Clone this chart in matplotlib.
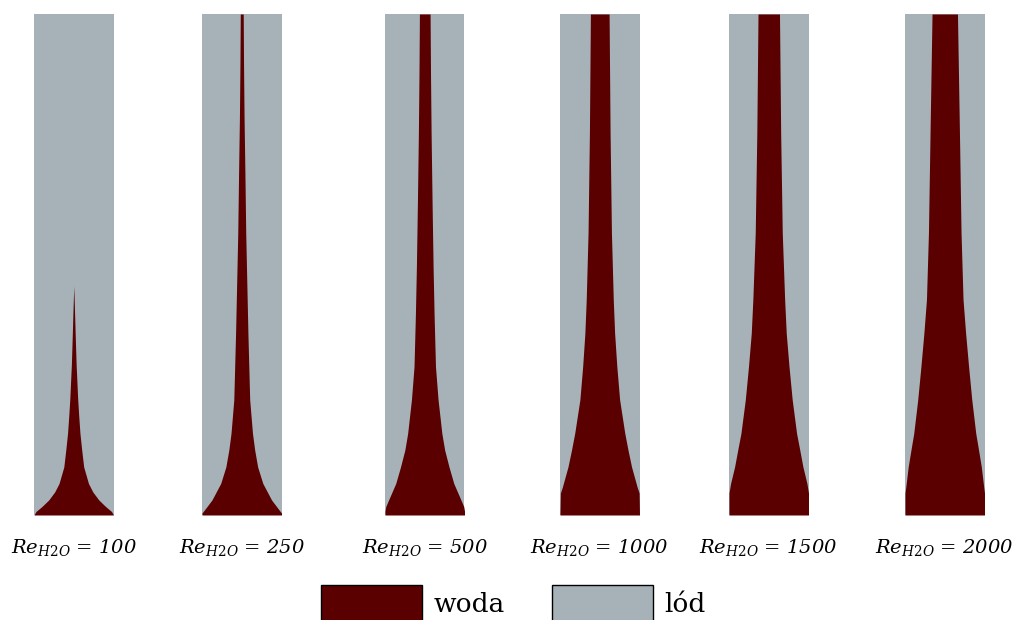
import numpy as np
import matplotlib
matplotlib.use("Agg")
import matplotlib.pyplot as plt
from matplotlib.patches import Patch

plt.rcParams.update({
    "font.family": "DejaVu Serif",
    "mathtext.fontset": "dejavuserif",
})

WATER = "#5a0000"
ICE = "#a7b2b8"

# Reynolds number of each run
re_values = [100, 250, 500, 1000, 1500, 2000]

# channel profile: height fraction (bottom -> top) and channel width as a
# fraction of the domain width at that height
h_100 = [0.0, 0.007, 0.017, 0.03, 0.046, 0.063, 0.096, 0.13, 0.163, 0.196,
         0.23, 0.30, 0.356, 0.40, 0.457]
w_100 = [1.0, 0.95, 0.80, 0.63, 0.48, 0.37, 0.25, 0.20, 0.156, 0.127,
         0.10, 0.06, 0.038, 0.022, 0.0]

h_250 = [0.0, 0.004, 0.01, 0.03, 0.063, 0.096, 0.13, 0.163, 0.23, 0.363,
         0.563, 0.68, 0.795, 0.90, 1.0]
w_250 = [1.0, 1.0, 0.94, 0.75, 0.53, 0.40, 0.325, 0.27, 0.20, 0.155,
         0.10, 0.08, 0.058, 0.045, 0.037]

h_500 = [0.0, 0.008, 0.017, 0.03, 0.063, 0.096, 0.13, 0.163, 0.23, 0.296,
         0.40, 0.495, 0.62, 0.762, 0.88, 1.0]
w_500 = [1.0, 1.0, 0.98, 0.91, 0.73, 0.61, 0.50, 0.43, 0.335, 0.27,
         0.235, 0.21, 0.185, 0.16, 0.145, 0.134]

h_1000 = [0.0, 0.044, 0.056, 0.096, 0.13, 0.163, 0.23, 0.296, 0.363, 0.43,
          0.563, 0.762, 1.0]
w_1000 = [1.0, 0.99, 0.94, 0.80, 0.71, 0.63, 0.50, 0.43, 0.374, 0.34,
          0.294, 0.26, 0.235]

h_1500 = [0.0, 0.044, 0.063, 0.096, 0.13, 0.163, 0.23, 0.296, 0.363, 0.43,
          0.563, 0.762, 1.0]
w_1500 = [1.0, 1.0, 0.96, 0.86, 0.78, 0.70, 0.59, 0.51, 0.44, 0.40,
          0.34, 0.30, 0.27]

h_2000 = [0.0, 0.044, 0.056, 0.096, 0.13, 0.163, 0.23, 0.296, 0.363, 0.43,
          0.563, 0.762, 1.0]
w_2000 = [1.0, 1.0, 0.98, 0.92, 0.85, 0.78, 0.68, 0.60, 0.525, 0.46,
          0.41, 0.37, 0.32]

profiles = [(h_100, w_100), (h_250, w_250), (h_500, w_500),
            (h_1000, w_1000), (h_1500, w_1500), (h_2000, w_2000)]

FIG_W, FIG_H = 1027, 620
PANEL_LEFT = [34, 202, 385, 560, 729, 905]
PANEL_W = 79.5
PANEL_TOP, PANEL_BOT = 14, 515


def draw_panel(ax, h, w):
    h = np.asarray(h)
    half = np.asarray(w) / 2
    ax.set_facecolor(ICE)
    ax.fill_betweenx(h, -half, half, color=WATER, lw=0)
    ax.set_xlim(-0.5, 0.5)
    ax.set_ylim(0, 1)
    ax.set_xticks([])
    ax.set_yticks([])
    for s in ax.spines.values():
        s.set_visible(False)


def main():
    fig = plt.figure(figsize=(FIG_W / 100, FIG_H / 100), dpi=100)
    for x0, (h, w), re in zip(PANEL_LEFT, profiles, re_values):
        ax = fig.add_axes([x0 / FIG_W, (FIG_H - PANEL_BOT) / FIG_H,
                           PANEL_W / FIG_W, (PANEL_BOT - PANEL_TOP) / FIG_H])
        draw_panel(ax, h, w)
        ax.text(0.5, -0.064, rf"$Re_{{\mathit{{H2O}}}}$ = {re}",
                transform=ax.transAxes, ha="center", va="center",
                fontsize=14, fontstyle="italic")

    # legend box runs off the bottom edge of the figure
    handles = [Patch(facecolor=WATER, edgecolor="black", lw=1.0, label="woda"),
               Patch(facecolor=ICE, edgecolor="black", lw=1.0, label="lód")]
    fig.legend(handles=handles, loc="center", ncol=2, frameon=False,
               bbox_to_anchor=(0.5, (FIG_H - 603) / FIG_H),
               fontsize=19, handlelength=3.8, handleheight=1.7,
               handletextpad=0.45, columnspacing=1.8, borderpad=0)

    fig.savefig("out.png", dpi=100)


if __name__ == "__main__":
    main()
